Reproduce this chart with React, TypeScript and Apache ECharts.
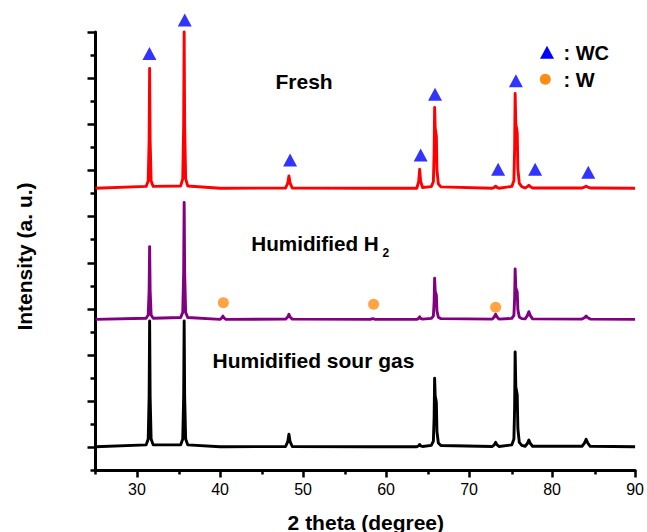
import React, { useEffect, useRef } from "react";
import * as echarts from "echarts";

// 2θ sampling positions (degrees), shared by the three patterns
const twoTheta = [
  25,
  31.1, 31.35, 31.46, 31.52, 31.58, 31.7, 31.95,
  35.26, 35.51, 35.62, 35.68, 35.74, 35.86, 36.11,
  40.0, 40.23, 40.35, 40.47, 40.7,
  47.9, 48.16, 48.3, 48.44, 48.7,
  58.1, 58.4, 58.7,
  63.7, 63.93, 64.05, 64.17, 64.4,
  65.45, 65.7, 65.79, 65.85, 65.92, 66.0, 66.06, 66.13, 66.3, 66.6,
  72.8, 73.05, 73.2, 73.35, 73.6,
  75.15, 75.4, 75.49, 75.55, 75.63, 75.72, 75.8, 75.88, 76.05, 76.35,
  76.75, 77.02, 77.2, 77.38, 77.65,
  83.6, 83.9, 84.1, 84.3, 84.6,
  90,
];

// intensities (a. u.) above each pattern's own baseline
const freshIntensity = [
  0,
  0.08, 0.31, 2.08, 5.19, 2.08, 0.31, 0.08,
  0.10, 0.41, 2.71, 6.77, 2.71, 0.41, 0.10,
  0, 0, 0, 0, 0,
  0.01, 0.22, 0.53, 0.22, 0.01,
  0, 0, 0,
  0, 0.29, 0.82, 0.29, 0.03,
  0.07, 0.28, 1.47, 3.50, 2.60, 2.43, 2.26, 0.78, 0.19, 0.06,
  0, 0.04, 0.09, 0.04, 0,
  0.08, 0.33, 1.73, 4.11, 2.78, 2.60, 2.42, 0.83, 0.21, 0.07,
  0.01, 0.07, 0.13, 0.07, 0.01,
  0.01, 0.05, 0.09, 0.05, 0.01,
  0,
];

const h2Intensity = [
  0,
  0.05, 0.19, 1.26, 3.15, 1.26, 0.19, 0.05,
  0.08, 0.30, 2.02, 5.06, 2.02, 0.30, 0.08,
  0, 0.06, 0.14, 0.06, 0,
  0.01, 0.10, 0.22, 0.10, 0.01,
  0, 0.03, 0,
  0, 0.04, 0.11, 0.04, 0.01,
  0.04, 0.14, 0.75, 1.78, 1.21, 1.13, 1.05, 0.36, 0.09, 0.03,
  0.01, 0.11, 0.22, 0.11, 0.01,
  0.04, 0.17, 0.92, 2.18, 1.36, 1.27, 1.18, 0.41, 0.10, 0.03,
  0.02, 0.16, 0.33, 0.16, 0.02,
  0.01, 0.07, 0.14, 0.07, 0.01,
  0,
];

const sourIntensity = [
  0,
  0.08, 0.33, 2.18, 5.45, 2.18, 0.33, 0.08,
  0.08, 0.33, 2.18, 5.45, 2.18, 0.33, 0.08,
  0, 0, 0, 0, 0,
  0.01, 0.22, 0.54, 0.22, 0.01,
  0, 0, 0,
  0, 0.04, 0.10, 0.04, 0.01,
  0.06, 0.24, 1.25, 2.97, 2.20, 2.06, 1.92, 0.66, 0.16, 0.05,
  0.01, 0.09, 0.19, 0.09, 0.01,
  0.08, 0.33, 1.73, 4.11, 2.59, 2.42, 2.25, 0.77, 0.19, 0.06,
  0.02, 0.14, 0.29, 0.14, 0.02,
  0.02, 0.16, 0.32, 0.16, 0.02,
  0,
];

// vertical stacking offsets
const freshOffset = 12.23;
const h2Offset = 6.55;
const sourOffset = 1.03;

// phase markers
const wcMarkTheta = [31.5, 35.75, 48.44, 64.17, 65.9, 73.5, 75.64, 77.96, 84.36];
const wcMarkY = [18.07, 19.52, 13.45, 13.67, 16.3, 13.05, 16.89, 13.05, 12.92];
const wMarkTheta = [40.4, 58.5, 73.2];
const wMarkY = [7.27, 7.2, 7.07];

// ticks
const xMajorTicks = [30, 40, 50, 60, 70, 80, 90];
const xMinorTicks = [25, 35, 45, 55, 65, 75, 85];
const yMajorTicks = [1, 3, 5, 7, 9, 11, 13, 15, 17, 19];
const yMinorTicks = [0, 2, 4, 6, 8, 10, 12, 14, 16, 18];

const FONT = "'Liberation Sans', Arial, Helvetica, sans-serif";

export default function App() {
  const ref = useRef<HTMLDivElement>(null);

  useEffect(() => {
    if (!ref.current) return;
    const chart = echarts.init(ref.current, undefined, { renderer: "svg" });
    const gridBox = { left: 95.5, right: 10.3, top: 32, bottom: 61.5 };
    const line = (vals: number[], off: number, color: string) => ({
      type: "line",
      xAxisIndex: 0,
      yAxisIndex: 0,
      data: twoTheta.map((t, i) => [t, vals[i] + off]),
      symbol: "none",
      showSymbol: false,
      clip: false,
      silent: true,
      lineStyle: { color, width: 2.9, join: "round" },
    });
    const txt = (text: string, x: number, y: number, size: number) => ({
      type: "text",
      x,
      y,
      silent: true,
      style: {
        text,
        fill: "#000",
        font: `bold ${size}px ${FONT}`,
        align: "left",
        verticalAlign: "middle",
        textAlign: "left",
        textVerticalAlign: "middle",
      },
    });
    const option: any = {
      animation: false,
      backgroundColor: "#ffffff",
      textStyle: { fontFamily: FONT },
      grid: [gridBox, gridBox],
      xAxis: [
        {
          type: "value",
          gridIndex: 0,
          min: 25,
          max: 90,
          axisLine: { show: true, onZero: false, lineStyle: { color: "#000", width: 3 } },
          axisTick: { show: true, customValues: xMajorTicks, length: 7, lineStyle: { color: "#000", width: 2.5 } },
          axisLabel: { show: true, customValues: xMajorTicks, margin: 11, color: "#000", fontSize: 16, fontFamily: FONT },
          splitLine: { show: false },
        },
        {
          type: "value",
          gridIndex: 1,
          min: 25,
          max: 90,
          axisLine: { show: false, onZero: false },
          axisTick: { show: true, customValues: xMinorTicks, length: 4, lineStyle: { color: "#000", width: 2.5 } },
          axisLabel: { show: false },
          splitLine: { show: false },
        },
      ],
      yAxis: [
        {
          type: "value",
          gridIndex: 0,
          min: 0,
          max: 19,
          axisLine: { show: true, onZero: false, lineStyle: { color: "#000", width: 3 } },
          axisTick: { show: true, customValues: yMajorTicks, length: 8, lineStyle: { color: "#000", width: 2.5 } },
          axisLabel: { show: false },
          splitLine: { show: false },
        },
        {
          type: "value",
          gridIndex: 1,
          min: 0,
          max: 19,
          axisLine: { show: false, onZero: false },
          axisTick: { show: true, customValues: yMinorTicks, length: 5, lineStyle: { color: "#000", width: 2.5 } },
          axisLabel: { show: false },
          splitLine: { show: false },
        },
      ],
      series: [
        line(sourIntensity, sourOffset, "#000000"),
        line(h2Intensity, h2Offset, "#800080"),
        line(freshIntensity, freshOffset, "#ff0000"),
        {
          type: "scatter",
          xAxisIndex: 0,
          yAxisIndex: 0,
          clip: false,
          silent: true,
          symbol: "triangle",
          symbolSize: [14, 13],
          itemStyle: { color: "#0000ff" },
          data: wcMarkTheta.map((t, i) => [t, wcMarkY[i]]),
        },
        {
          type: "scatter",
          xAxisIndex: 0,
          yAxisIndex: 0,
          clip: false,
          silent: true,
          symbol: "circle",
          symbolSize: 11,
          itemStyle: { color: "#ff8c14" },
          data: wMarkTheta.map((t, i) => [t, wMarkY[i]]),
        },
      ],
      graphic: [
        txt("Fresh", 275.5, 81, 21),
        txt("Humidified H", 251.2, 243, 20.7),
        txt("2", 382.5, 253, 12),
        txt("Humidified sour gas", 212.5, 360, 21),
        {
          type: "polygon",
          silent: true,
          shape: { points: [[547, 45.8], [554, 58.8], [540, 58.8]] },
          style: { fill: "#0000ff" },
        },
        {
          type: "circle",
          silent: true,
          shape: { cx: 545.3, cy: 79.3, r: 5.5 },
          style: { fill: "#ff8c14" },
        },
        txt(": WC", 563.5, 52.5, 20),
        txt(": W", 563.5, 79.5, 20),
        {
          type: "text",
          silent: true,
          x: 365.8,
          y: 522,
          style: {
            text: "2 theta (degree)",
            fill: "#000",
            font: `bold 21px ${FONT}`,
            align: "center",
            verticalAlign: "middle",
            textAlign: "center",
            textVerticalAlign: "middle",
          },
        },
        {
          type: "text",
          silent: true,
          x: 24,
          y: 256.5,
          rotation: Math.PI / 2,
          style: {
            text: "Intensity (a. u.)",
            fill: "#000",
            font: `bold 21px ${FONT}`,
            align: "center",
            verticalAlign: "middle",
            textAlign: "center",
            textVerticalAlign: "middle",
          },
        },
      ],
    };
    chart.setOption(option);
    return () => chart.dispose();
  }, []);

  return (
    <div
      ref={ref}
      style={{ position: "fixed", left: 0, top: 0, width: 647, height: 532, background: "#fff" }}
    />
  );
}
